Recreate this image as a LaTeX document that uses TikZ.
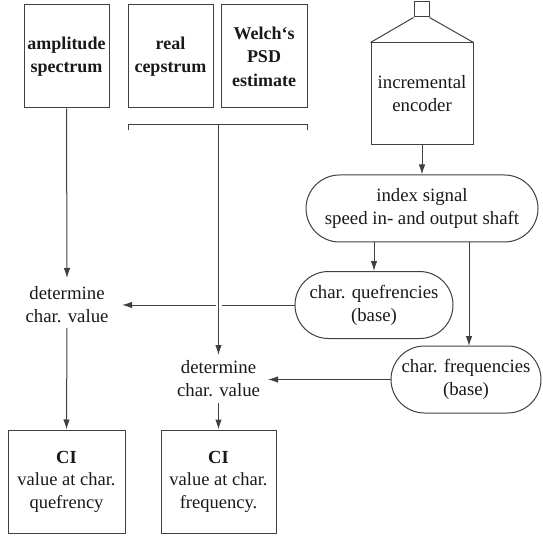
\documentclass[tikz,border=0pt]{standalone}
\usepackage{fontspec}
\setmainfont{Liberation Serif}
\usetikzlibrary{arrows.meta,shapes.misc}
\begin{document}
\begin{tikzpicture}[x=1pt,y=-1pt,
  every node/.style={font=\fontsize{18.8}{23}\selectfont, align=center, inner sep=0pt, text=black!90},
  hd/.style={font=\fontsize{18}{23.5}\selectfont\bfseries},
  ln/.style={draw=black!75, line width=1pt},
  arr/.style={ln, -{Latex[length=10pt,width=6.5pt]}},
  sq/.style={ln, rectangle, minimum width=#1, minimum height=103pt},
  pill/.style={ln, rounded rectangle, minimum height=67pt}
]
\useasboundingbox (0,0) rectangle (543,537);
% top boxes
\node[sq=85pt, hd] (amp) at (66.5,56.5) {amplitude\\spectrum};
\node[sq=85pt, hd] (real) at (170.5,56.5) {real\\cepstrum};
\node[sq=86pt, hd] (welch) at (264,56.5) {Welch`s\\PSD\\estimate};
% bracket
\coordinate (bl) at (128,125);
\coordinate (br) at (307,125);
\coordinate (bm) at (218.5,125);
\draw[ln] ([yshift=-5pt]bl) -- (bl) -- (br) -- ([yshift=-5pt]br);
% encoder
\node[sq=102pt, minimum height=102pt] (enc) at (422,94) {incremental\\encoder};
\node[ln, rectangle, minimum width=15pt, minimum height=15pt] (cap) at (421.5,9.5) {};
\draw[ln] (enc.north west) -- (cap.south west);
\draw[ln] (enc.north east) -- (cap.south east);
% pills
\node[pill, minimum width=232pt] (idx) at (422,208.5) {index signal\\speed in- and output shaft};
\node[pill, minimum width=158pt] (que) at (374,305) {char. quefrencies\\(base)};
\node[pill, minimum width=150pt] (frq) at (466,379.5) {char. frequencies\\(base)};
% determine nodes
\node[minimum width=110pt, minimum height=50pt] (detL) at (67,305) {determine\\char. value};
\node[minimum width=100pt, minimum height=48pt] (detR) at (218.5,379) {determine\\char. value};
% CI boxes
\node[sq=117pt, font=\fontsize{18.5}{22.5}\selectfont] (ciL) at (66.5,481.5) {\textbf{CI}\\value at char.\\quefrency};
\node[sq=115pt, font=\fontsize{18.5}{22.5}\selectfont] (ciR) at (218.5,481.5) {\textbf{CI}\\value at char.\\frequency.};
% connectors
\draw[arr] (enc.south) -- (idx.north);
\draw[arr] (idx.south -| que.north) -- (que.north);
\draw[arr] (idx.south -| 469,0) -- (469,346);
\draw[arr] (que.west) -- (122,305);
\draw[arr] (frq.west) -- (268,379.5);
\draw[arr] (amp.south) -- (67,278);
\draw[arr] (67,328) -- (ciL.north);
\fill[white] (215.5,302) rectangle (221.5,308);
\draw[arr] (bm) -- (218.5,355);
\draw[arr] (218.5,403) -- (ciR.north);
\end{tikzpicture}
\end{document}
